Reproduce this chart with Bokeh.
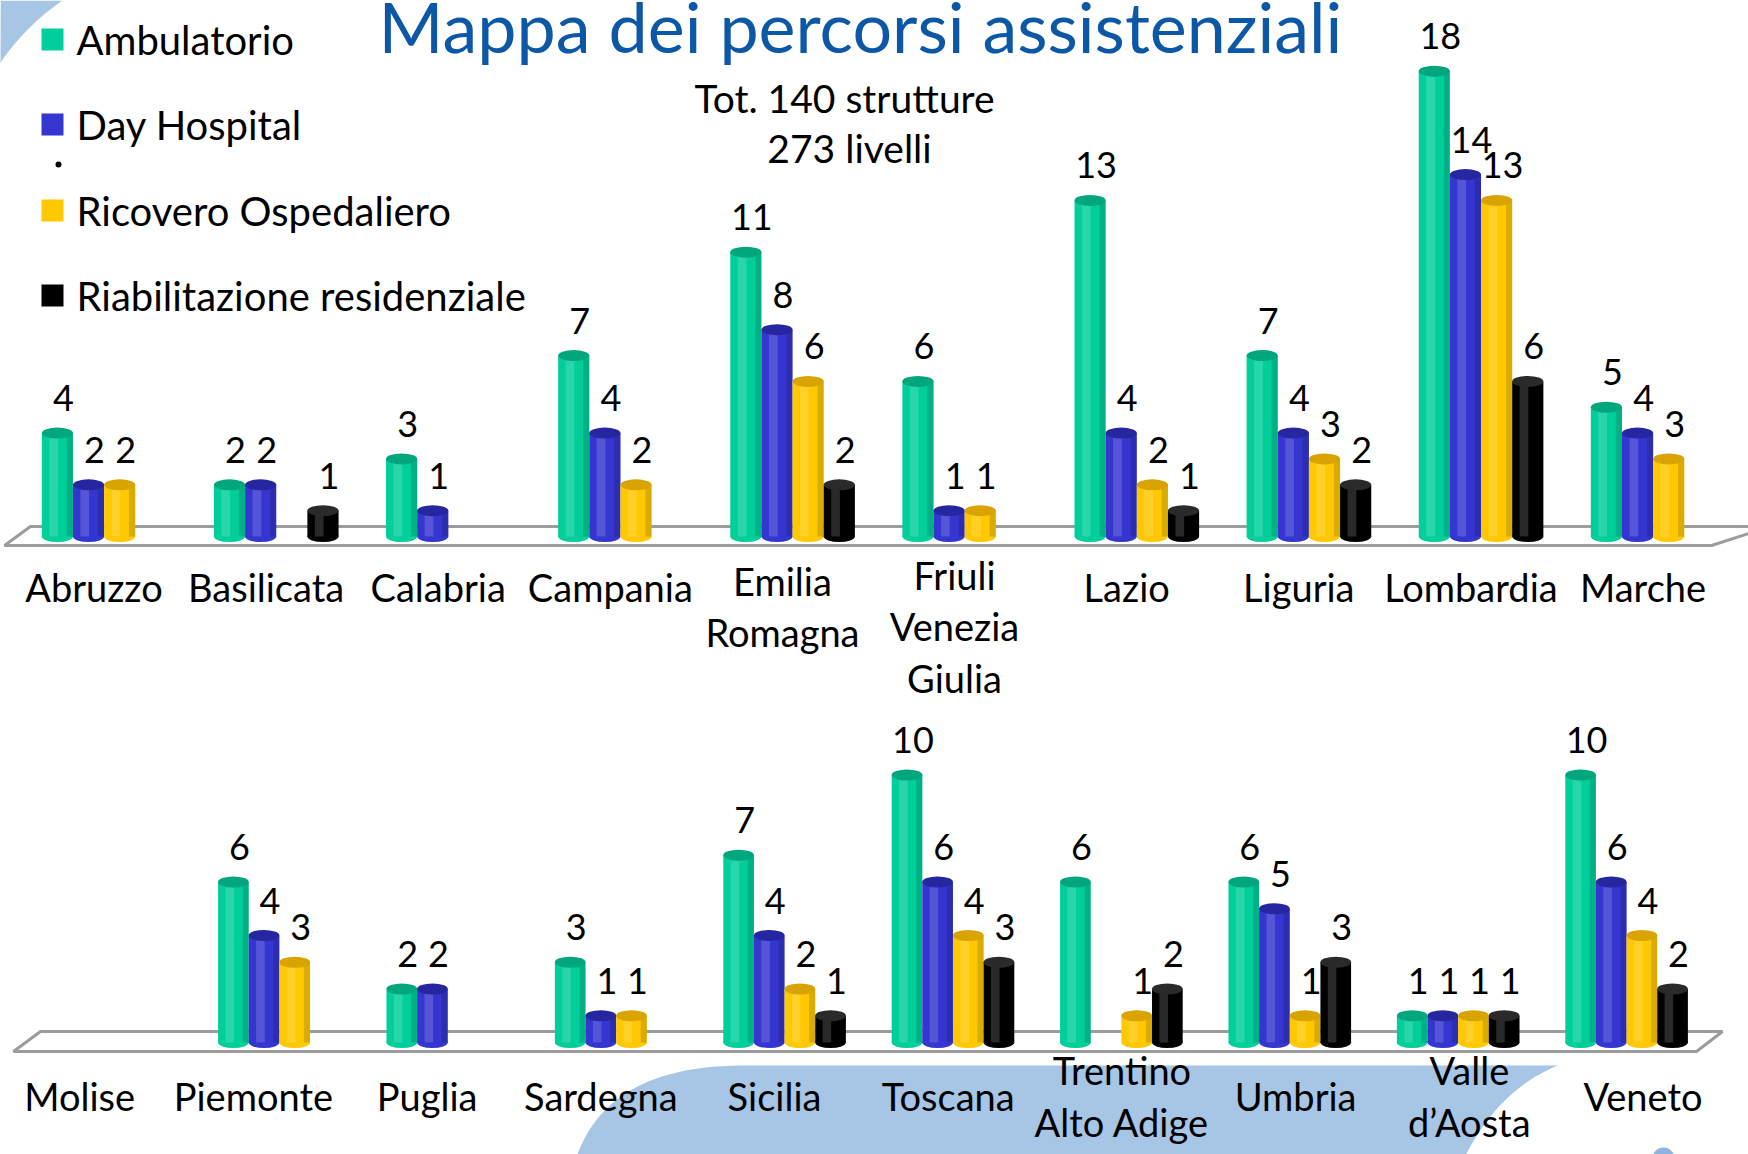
import numpy as np
from bokeh.plotting import figure
from bokeh.models import ColumnDataSource, FactorRange, Range1d
from bokeh.transform import dodge
from bokeh.layouts import column
from bokeh.embed import file_html
from bokeh.resources import INLINE
from bokeh.core.properties import value

# ---------------- data ----------------
series = ["Ambulatorio", "Day Hospital", "Ricovero Ospedaliero", "Riabilitazione residenziale"]
colors = ["#00CF9B", "#3535D0", "#FFC800", "#000000"]
top_colors = ["#00A67C", "#2626A0", "#D9A300", "#2A2A2A"]

regions_top = ["Abruzzo", "Basilicata", "Calabria", "Campania", "Emilia\nRomagna",
               "Friuli\nVenezia\nGiulia", "Lazio", "Liguria", "Lombardia", "Marche"]
amb_top = [4, 2, 3, 7, 11, 6, 13, 7, 18, 5]
dh_top = [2, 2, 1, 4, 8, 1, 4, 4, 14, 4]
ro_top = [2, 0, 0, 2, 6, 1, 2, 3, 13, 3]
rr_top = [0, 1, 0, 0, 2, 0, 1, 2, 6, 0]

regions_bot = ["Molise", "Piemonte", "Puglia", "Sardegna", "Sicilia", "Toscana",
               "Trentino\nAlto Adige", "Umbria", "Valle\nd\u2019Aosta", "Veneto"]
amb_bot = [0, 6, 2, 3, 7, 10, 6, 6, 1, 10]
dh_bot = [0, 4, 2, 1, 4, 6, 0, 5, 1, 6]
ro_bot = [0, 3, 0, 1, 2, 4, 1, 1, 1, 4]
rr_bot = [0, 0, 0, 0, 1, 3, 2, 3, 1, 2]

title_text = "Mappa dei percorsi assistenziali"
subtitle_lines = ["Tot. 140 strutture", "273 livelli"]

FONT = value("Lato")
W = 1748
SPLIT = 712
H = 1154


def base_fig(regions, height, pad, y0, y1, px_top, px_bot):
    p = figure(width=W, height=height,
               x_range=FactorRange(*regions, range_padding=pad, range_padding_units="absolute"),
               y_range=Range1d(y0, y1),
               output_backend="svg", toolbar_location=None, min_border=0,
               outline_line_color=None, background_fill_color="white",
               border_fill_color="white")
    p.axis.visible = False
    p.grid.visible = False
    p.extra_y_ranges = {"px": Range1d(px_bot, px_top)}
    p.tags = [pad, len(regions)]
    return p


def sx(p, xs):
    # page-pixel x -> synthetic coordinate of the categorical range
    pad, n = p.tags
    return [(-pad + x * (n + 2 * pad) / W) for x in xs]


def floor(p, pts):
    xs = [q[0] for q in pts]
    ys = [q[1] for q in pts]
    p.patch(sx(p, xs), ys, fill_color="white", line_color="#9C9C9C", line_width=3,
            y_range_name="px")


def bars(p, regions, vals_list, bar_w, shift):
    for i, vals in enumerate(vals_list):
        off = (i - 1.5) * bar_w + shift
        keep = [k for k, v in enumerate(vals) if v > 0]
        src = ColumnDataSource(dict(region=[regions[k] for k in keep],
                                    val=[vals[k] for k in keep],
                                    label=[str(vals[k]) for k in keep]))
        xd = dodge("region", off, range=p.x_range)
        p.ellipse(x=xd, y=0, width=bar_w, height=11, height_units="screen",
                  fill_color=colors[i], line_color=None, source=src)
        p.vbar(x=xd, top="val", bottom=0, width=bar_w, fill_color=colors[i],
               line_color=None, source=src)
        # cylinder shading
        p.vbar(x=dodge("region", off - 0.12 * bar_w, range=p.x_range), top="val", bottom=0,
               width=0.28 * bar_w, fill_color="white", fill_alpha=0.16, line_color=None, source=src)
        p.vbar(x=dodge("region", off + 0.4 * bar_w, range=p.x_range), top="val", bottom=0,
               width=0.2 * bar_w, fill_color="black", fill_alpha=0.14, line_color=None, source=src)
        p.ellipse(x=xd, y="val", width=bar_w, height=11, height_units="screen",
                  fill_color=top_colors[i], line_color=None, source=src)
        p.text(x=xd, y="val", text="label", source=src,
               x_offset=6, y_offset=-35, text_align="center", text_baseline="alphabetic",
               text_font=FONT, text_font_size="36px", text_color="black")


def cat_labels(p, regions, dx, dy):
    src = ColumnDataSource(dict(region=regions, y=[0] * len(regions), dx=dx, dy=dy))
    p.text(x="region", y="y", text="region", source=src, x_offset="dx", y_offset="dy",
           text_align="center", text_baseline="top", text_font=FONT,
           text_font_size="38px", text_line_height=1.13, text_color="black")


def nlines(s):
    return s.count("\n") + 1


# ---------------- top chart ----------------
top = base_fig(regions_top, SPLIT, 0.078, -(SPLIT - 536) / 25.85, 536 / 25.85, 0, SPLIT)

# background corner arc
ang = np.linspace(np.arctan2(0 - 200, 62 - 200), np.arctan2(63 - 200, 0 - 200), 40)
ax = list(200 + 243 * np.cos(ang)) + [0]
ay = list(200 + 243 * np.sin(ang)) + [0]
top.patch(sx(top, ax), ay, fill_color="#A7C5E5", line_color=None, y_range_name="px")

floor(top, [(4, 545), (30, 526), (1770, 526), (1711, 545)])
bars(top, regions_top, [amb_top, dh_top, ro_top, rr_top], 0.181, 0.024)
cat_labels(top, regions_top, [-6] * len(regions_top),
           [27 - (nlines(r) - 1) * 6 for r in regions_top])

top.text(x=sx(top, [860]), y=[25], text=[title_text], y_range_name="px",
         text_align="center", text_baseline="alphabetic", text_font=FONT,
         text_font_size="70px", text_color="#0C58A6")
top.text(x=sx(top, [844, 849]), y=[97, 147], text=subtitle_lines, y_range_name="px",
         text_align="center", text_baseline="middle", text_font=FONT,
         text_font_size="39px", text_color="black")

leg_y = [39, 124, 210, 295]
top.scatter(x=sx(top, [52] * 4), y=leg_y, marker="square", size=22, fill_color=colors,
            line_color=None, y_range_name="px")
top.text(x=sx(top, [76] * 4), y=leg_y, text=series, y_range_name="px",
         text_align="left", text_baseline="middle", text_font=FONT,
         text_font_size="40px", text_color="black")
top.scatter(x=sx(top, [58]), y=[164], size=6, fill_color="black", line_color=None,
            y_range_name="px")

# ---------------- bottom chart ----------------
bot = base_fig(regions_bot, H - SPLIT, 0.19, -(H - 1042) / 26.75, (1042 - SPLIT) / 26.75,
               SPLIT, H)


def bez(p0, c, p1, n=30):
    t = np.linspace(0, 1, n)
    x = (1 - t) ** 2 * p0[0] + 2 * (1 - t) * t * c[0] + t ** 2 * p1[0]
    y = (1 - t) ** 2 * p0[1] + 2 * (1 - t) * t * c[1] + t ** 2 * p1[1]
    return list(x), list(y)


lx, ly = bez((572, 1170), (598, 1066), (740, 1065))
rx, ry = bez((1557, 1065), (1492, 1092), (1458, 1170))
bot.patch(sx(bot, lx + rx), ly + ry, fill_color="#A7C5E5", line_color=None, y_range_name="px")
bot.scatter(x=sx(bot, [1663]), y=[1158], size=22, fill_color="#8FB4DD", line_color=None,
            y_range_name="px")

floor(bot, [(13, 1051), (40, 1031), (1722, 1031), (1696, 1051)])
bars(bot, regions_bot, [amb_bot, dh_bot, ro_bot, rr_bot], 0.182, -0.034)
cat_labels(bot, regions_bot, [-37 + 5.3 * k for k in range(len(regions_bot))],
           [30 - (nlines(r) - 1) * 25.5 for r in regions_bot])

layout = column(top, bot, spacing=0)
open("out.html", "w").write(file_html(layout, INLINE))
